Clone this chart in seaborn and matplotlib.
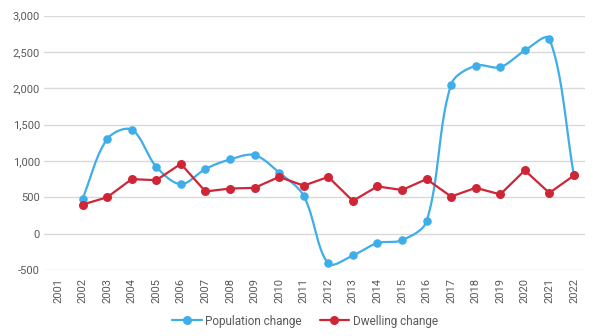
import numpy as np
import pandas as pd
import matplotlib
matplotlib.use("Agg")
import matplotlib.pyplot as plt
import seaborn as sns
from matplotlib.lines import Line2D
from matplotlib.ticker import FuncFormatter

years = [str(y) for y in range(2001, 2023)]
pop_years = [str(y) for y in range(2002, 2023)]
population = [480, 1300, 1430, 920, 680, 890, 1020, 1080, 840, 520, -410,
              -300, -130, -90, 170, 2050, 2310, 2290, 2520, 2680, 800]
dwelling = [400, 500, 750, 735, 960, 580, 620, 630, 780, 660, 780,
            450, 650, 600, 750, 510, 630, 540, 870, 560, 800]

BLUE = "#3FAEE8"
RED = "#CF2637"
GREY = "#595959"

sns.set_theme(style="white")
plt.rcParams['font.family'] = ['Roboto', 'DejaVu Sans']

df = pd.DataFrame({"year": pop_years, "Population change": population,
                   "Dwelling change": dwelling})
df["x"] = [years.index(y) for y in df["year"]]

fig = plt.figure(figsize=(5.98, 3.36), dpi=100)
ax = fig.add_axes([44/598, 1-270/336, (585-44)/598, (270-15.5)/336])
ax.set_ylim(-500, 3000)
ax.set_xlim(-0.57, 21.45)


def smooth(ax, xs, ys, n=24):
    # smoothing done in display space, control lengths scaled by segment length
    pts = ax.transData.transform(np.column_stack([xs, ys]).astype(float))
    P = np.vstack([pts[0], pts, pts[-1]])
    out = []
    t = np.linspace(0, 1, n)[:, None]
    for i in range(1, len(P) - 2):
        p0, p1 = P[i], P[i+1]
        d_prev = np.linalg.norm(P[i] - P[i-1]); d = np.linalg.norm(p1 - p0)
        d_next = np.linalg.norm(P[i+2] - P[i+1])
        tan0 = P[i+1] - P[i-1]; tan1 = P[i+2] - P[i]
        f0 = d / (d_prev + d) if d_prev + d > 0 else 0
        f1 = d / (d + d_next) if d + d_next > 0 else 0
        c1 = p0 + tan0 * f0 / 3
        c2 = p1 - tan1 * f1 / 3
        b = (1-t)**3*p0 + 3*(1-t)**2*t*c1 + 3*(1-t)*t**2*c2 + t**3*p1
        out.append(b)
    out = np.vstack(out)
    return ax.transData.inverted().transform(out)

curve = smooth(ax, df["x"].values, df["Population change"].values)
ax.plot(curve[:, 0], curve[:, 1], color=BLUE, lw=1.6, zorder=3)
sns.scatterplot(x=df["x"], y=df["Population change"], color=BLUE, s=38,
                edgecolor=BLUE, linewidth=0, zorder=4, ax=ax, legend=False)
sns.lineplot(x=df["x"], y=df["Dwelling change"], color=RED, lw=1.6,
             marker="o", markersize=6.5, markeredgewidth=0, zorder=5, ax=ax,
             legend=False)

ax.set_ylim(-500, 3000)
ax.set_xlim(-0.57, 21.45)
ax.set_yticks(range(-500, 3001, 500))
ax.yaxis.set_major_formatter(FuncFormatter(lambda v, p: f"{int(v):,}"))
ax.set_xticks(range(len(years)))
ax.set_xticklabels(years, rotation=90)
ax.tick_params(axis="both", colors=GREY, labelsize=8, length=0, pad=3)
ax.tick_params(axis="x", pad=6)
ax.grid(axis="y", color="#D9D9D9", lw=1)
ax.set_axisbelow(True)
for s in ax.spines.values():
    s.set_visible(False)
ax.set_xlabel(""); ax.set_ylabel("")

handles = [Line2D([0], [0], color=BLUE, lw=1.6, marker="o", markersize=6.5, markeredgewidth=0),
           Line2D([0], [0], color=RED, lw=1.6, marker="o", markersize=6.5, markeredgewidth=0)]
fig.legend(handles, ["Population change", "Dwelling change"], loc="center",
           bbox_to_anchor=(305/598, 1-321/336), ncol=2, frameon=False,
           fontsize=8.5, labelcolor=GREY, handlelength=2.5, columnspacing=1.5,
           handletextpad=0.3)

fig.savefig("out.png", dpi=100)
